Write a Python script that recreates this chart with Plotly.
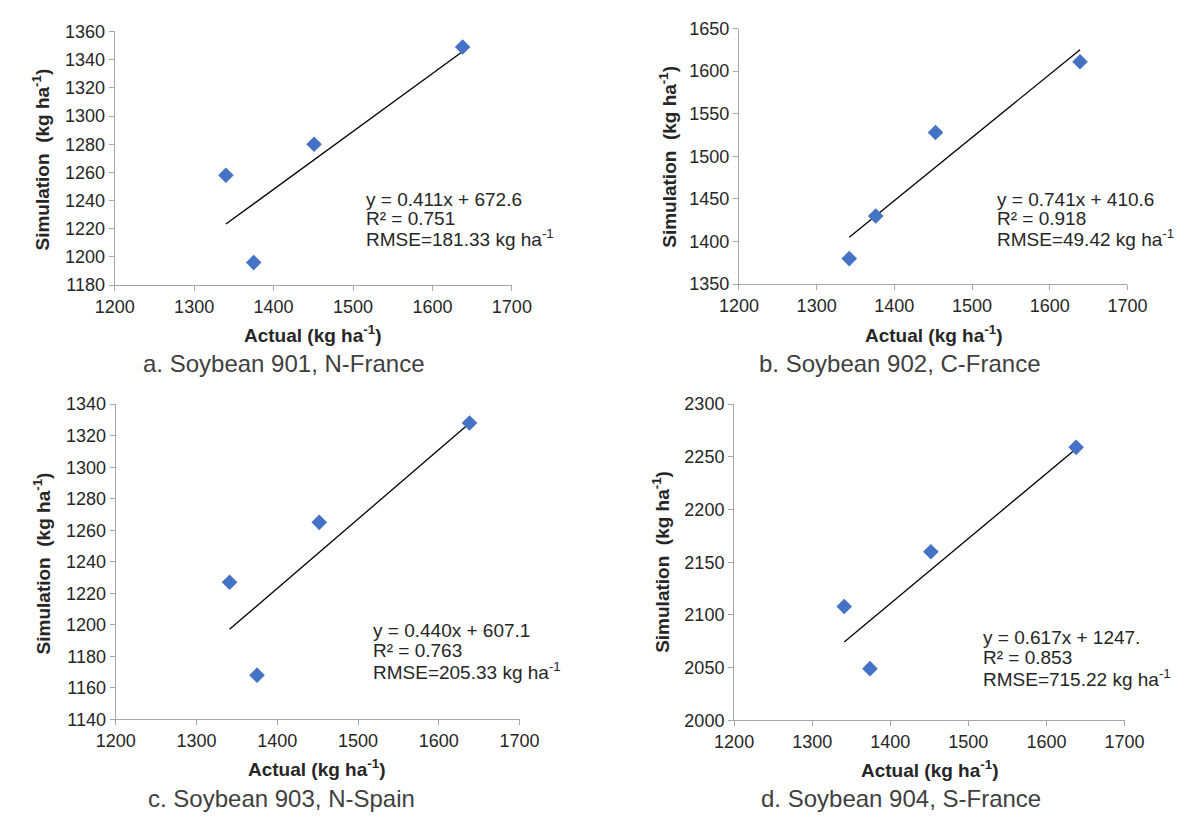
import plotly.graph_objects as go

# ---- data ----
actual_a = [1340, 1375, 1451, 1638]
sim_a = [1258, 1196, 1280, 1349]
actual_b = [1342, 1376, 1453, 1639]
sim_b = [1380, 1430, 1528, 1611]
actual_c = [1341, 1375, 1452, 1638]
sim_c = [1227, 1168, 1265, 1328]
actual_d = [1341, 1374, 1452, 1638]
sim_d = [2108, 2049, 2160, 2259]

slopes = [0.411, 0.741, 0.440, 0.617]
intercepts = [672.6, 410.6, 607.1, 1247.0]
eq_lines = [
    ["y = 0.411x + 672.6", "R² = 0.751", "RMSE=181.33 kg ha<sup>-1</sup>"],
    ["y = 0.741x + 410.6", "R² = 0.918", "RMSE=49.42 kg ha<sup>-1</sup>"],
    ["y = 0.440x + 607.1", "R² = 0.763", "RMSE=205.33 kg ha<sup>-1</sup>"],
    ["y = 0.617x + 1247.", "R² = 0.853", "RMSE=715.22 kg ha<sup>-1</sup>"],
]
captions = ["a. Soybean 901, N-France", "b. Soybean 902, C-France",
            "c. Soybean 903, N-Spain", "d. Soybean 904, S-France"]
y_ranges = [(1180, 1360, 20), (1350, 1650, 50), (1140, 1340, 20), (2000, 2300, 50)]
x_range = (1200, 1700, 100)

W, H = 1188, 821
FONT = "Liberation Sans, Arial, sans-serif"

# pixel layout of each panel: (x0, x1, ytop, ybottom)
panels = [(98, 509, 22, 282), (744, 1146, 19, 281), (99, 517, 404, 727), (739, 1143, 404, 728)]
eq_pos = [(356, [194, 214, 234]), (1009, [194, 214, 234]),
          (363, [636, 657, 678]), (995, [643, 664, 685])]
xtitle_pos = [(303, 332), (945, 332), (307, 777), (941, 778)]
ytitle_pos = [(22, 153), (671, 150), (23, 567), (664, 566)]
caption_pos = [(273, 362), (911, 362), (271, 808), (912, 808)]

xs = [actual_a, actual_b, actual_c, actual_d]
ys = [sim_a, sim_b, sim_c, sim_d]

fig = go.Figure()


def px(x):
    return x / W


def py(y):
    return 1 - y / H


for i in range(4):
    sfx = "" if i == 0 else str(i + 1)
    xa, ya = "x" + sfx, "y" + sfx
    # trendline
    xmin, xmax = min(xs[i]), max(xs[i])
    fig.add_trace(go.Scatter(
        x=[xmin, xmax],
        y=[slopes[i] * xmin + intercepts[i], slopes[i] * xmax + intercepts[i]],
        mode="lines", line=dict(color="black", width=1.3),
        xaxis=xa, yaxis=ya, showlegend=False, hoverinfo="skip"))
    fig.add_trace(go.Scatter(
        x=xs[i], y=ys[i], mode="markers",
        marker=dict(symbol="diamond", size=12, color="#4472C4"),
        xaxis=xa, yaxis=ya, showlegend=False))

    x0, x1, yt, yb = panels[i]
    axis_common = dict(showgrid=False, zeroline=False, showline=True,
                       linecolor="#A6A6A6", linewidth=1.2,
                       ticks="outside", ticklen=5, tickcolor="#A6A6A6",
                       tickfont=dict(family=FONT, size=18, color="#262626"))
    fig.layout["xaxis" + sfx] = dict(
        domain=[px(x0), px(x1)], anchor=ya,
        range=[x_range[0], x_range[1]], dtick=x_range[2], tick0=x_range[0],
        **axis_common)
    r = y_ranges[i]
    fig.layout["yaxis" + sfx] = dict(
        domain=[py(yb), py(yt)], anchor=xa,
        range=[r[0], r[1]], dtick=r[2], tick0=r[0],
        **axis_common)

    ex, eys = eq_pos[i]
    for line, ey in zip(eq_lines[i], eys):
        fig.add_annotation(x=px(ex), y=py(ey), xref="paper", yref="paper",
                           text=line, showarrow=False, align="left",
                           xanchor="left", yanchor="middle",
                           font=dict(family=FONT, size=19, color="#262626"))
    tx, ty = xtitle_pos[i]
    fig.add_annotation(x=px(tx), y=py(ty), xref="paper", yref="paper",
                       text="<b>Actual (kg ha<sup>-1</sup>)</b>", showarrow=False,
                       xanchor="center", yanchor="middle",
                       font=dict(family=FONT, size=19, color="#262626"))
    tx, ty = ytitle_pos[i]
    fig.add_annotation(x=px(tx), y=py(ty), xref="paper", yref="paper",
                       text="<b>Simulation&nbsp;&nbsp;(kg ha<sup>-1</sup>)</b>", showarrow=False,
                       textangle=-90, xanchor="center", yanchor="middle",
                       font=dict(family=FONT, size=19, color="#262626"))
    tx, ty = caption_pos[i]
    fig.add_annotation(x=px(tx), y=py(ty), xref="paper", yref="paper",
                       text=captions[i], showarrow=False,
                       xanchor="center", yanchor="middle",
                       font=dict(family=FONT, size=24, color="#404040"))

fig.update_layout(width=W, height=H, margin=dict(l=0, r=0, t=0, b=0),
                  paper_bgcolor="white", plot_bgcolor="white",
                  font=dict(family=FONT))

fig.write_html("out.html")
